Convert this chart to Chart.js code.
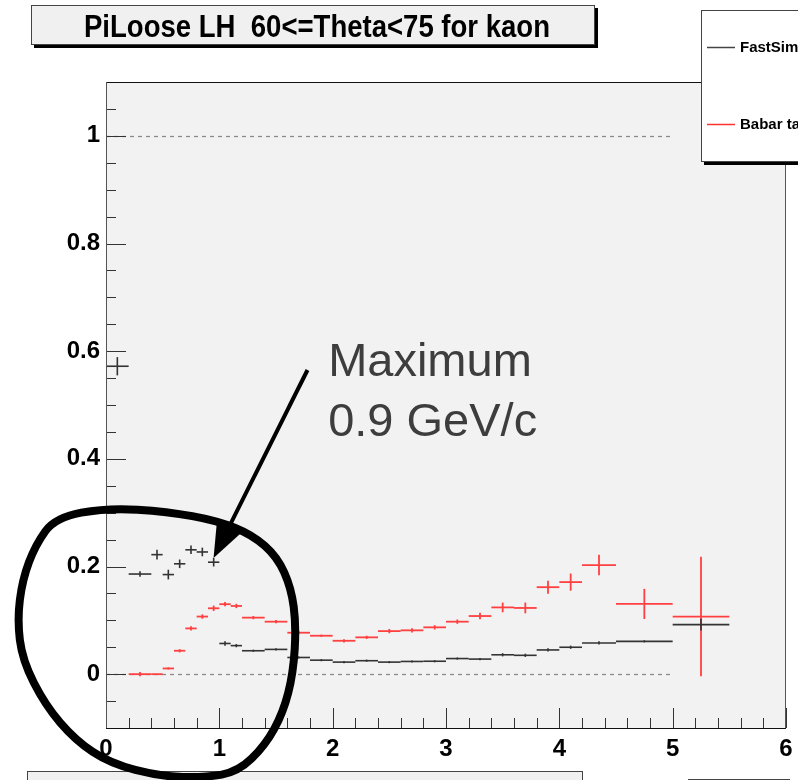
<!DOCTYPE html>
<html>
<head>
<meta charset="utf-8">
<script src="https://cdn.jsdelivr.net/npm/chart.js@4.4.1/dist/chart.umd.min.js"></script>
<style>
  html, body { margin: 0; padding: 0; background: #fff; }
  #wrap { width: 798px; height: 780px; position: relative; }
</style>
</head>
<body>
<div id="wrap"><canvas id="chart"></canvas></div>
<script>
const titleText = "PiLoose LH  60<=Theta<75 for kaon";
const fastLabel = "FastSim";
const babarLabel = "Babar tables";
const noteLines = ["Maximum", "0.9 GeV/c"];

// momentum bins (GeV/c)
const binLo = [0, 0.2, 0.4, 0.5, 0.6, 0.7, 0.8, 0.9, 1.0, 1.1, 1.2, 1.4, 1.6, 1.8, 2.0, 2.2, 2.4, 2.6, 2.8, 3.0, 3.2, 3.4, 3.6, 3.8, 4.0, 4.2, 4.5, 5.0];
const binHi = [0.2, 0.4, 0.5, 0.6, 0.7, 0.8, 0.9, 1.0, 1.1, 1.2, 1.4, 1.6, 1.8, 2.0, 2.2, 2.4, 2.6, 2.8, 3.0, 3.2, 3.4, 3.6, 3.8, 4.0, 4.2, 4.5, 5.0, 5.5];

const fastSim = [0.572, 0.186, 0.222, 0.185, 0.205, 0.231, 0.227, 0.208, 0.057, 0.053, 0.0435, 0.046, 0.031, 0.026, 0.0224, 0.025, 0.0224, 0.0236, 0.024, 0.029, 0.028, 0.036, 0.035, 0.045, 0.050, 0.058, 0.061, 0.092];
const fastErr = [0.017, 0.005, 0.009, 0.009, 0.008, 0.008, 0.008, 0.008, 0.004, 0.003, 0.002, 0.002, 0.002, 0.002, 0.002, 0.002, 0.002, 0.002, 0.002, 0.002, 0.002, 0.003, 0.003, 0.003, 0.003, 0.003, 0.002, 0.011];

const babar = [null, 0, 0, 0.0106, 0.0435, 0.085, 0.107, 0.1224, 0.130, 0.1267, 0.105, 0.0975, 0.077, 0.0714, 0.062, 0.0684, 0.080, 0.0814, 0.087, 0.0975, 0.108, 0.124, 0.123, 0.1616, 0.171, 0.2026, 0.1305, 0.107];
const babarErr = [null, 0.004, 0, 0.002, 0.003, 0.004, 0.004, 0.005, 0.004, 0.004, 0.003, 0.003, 0.003, 0.002, 0.003, 0.003, 0.004, 0.004, 0.004, 0.004, 0.006, 0.009, 0.010, 0.012, 0.016, 0.019, 0.028, 0.111];

const xTickValues = [0, 1, 2, 3, 4, 5, 6];
const yTickValues = [0, 0.2, 0.4, 0.6, 0.8, 1];

// dashed guide lines at 0 and 1, drawn from p=0 to p=5
const refLevels = [0, 1];
const refFrom = 0;
const refTo = 5;

// hand-drawn annotation, in data units (p, efficiency)
const loopX = [-0.447, 0.011, 0.541, 0.982, 1.290, 1.511, 1.634, 1.678, 1.652, 1.564, 1.405, 1.167, 0.876, 0.479, 0.038, -0.270, -0.535, -0.738, -0.782, -0.738, -0.623];
const loopY = [0.291, 0.309, 0.302, 0.285, 0.259, 0.218, 0.160, 0.091, 0.002, -0.071, -0.132, -0.181, -0.192, -0.190, -0.166, -0.123, -0.058, 0.026, 0.101, 0.175, 0.240];
const arrowFrom = [1.778, 0.565];
const arrowTo = [0.949, 0.216];
const noteAt = [1.96, 0.5536];

const FONT = "'Liberation Sans', Arial, Helvetica, sans-serif";

function toPoints(vals) {
  return vals.map((v, i) => ({ x: (binLo[i] + binHi[i]) / 2, y: v }));
}

function line(ctx, x1, y1, x2, y2) {
  ctx.beginPath();
  ctx.moveTo(x1, y1);
  ctx.lineTo(x2, y2);
  ctx.stroke();
}

function shadowBox(ctx, x, y, w, h, fill) {
  ctx.fillStyle = "#000";
  ctx.fillRect(x + 3, y + 3, w, h);
  ctx.fillStyle = fill;
  ctx.fillRect(x, y, w, h);
  ctx.strokeStyle = "#444";
  ctx.lineWidth = 1;
  ctx.strokeRect(x + 0.5, y + 0.5, w - 1, h - 1);
}

// ── Plugin: frame, ticks, error crosses, decorations ──

const rootStyle = {
  id: "rootStyle",
  beforeDraw(chart) {
    const { ctx, chartArea: a } = chart;
    ctx.save();
    ctx.fillStyle = "#fff";
    ctx.fillRect(0, 0, chart.width, chart.height);
    ctx.fillStyle = "#f2f2f2";
    ctx.fillRect(a.left, a.top, a.right - a.left, a.bottom - a.top);
    ctx.restore();
  },
  beforeDatasetsDraw(chart) {
    const { ctx, chartArea: a, scales: { x, y } } = chart;
    ctx.save();
    ctx.strokeStyle = "#8a8a8a";
    ctx.lineWidth = 1.3;
    ctx.setLineDash([4, 4]);
    refLevels.forEach((lv) => {
      const py = Math.round(y.getPixelForValue(lv)) + 0.5;
      line(ctx, x.getPixelForValue(refFrom), py, x.getPixelForValue(refTo), py);
    });
    ctx.setLineDash([]);

    // ticks point into the frame
    ctx.strokeStyle = "#333";
    ctx.lineWidth = 1;
    for (let i = 0; i <= 30; i++) {
      const px = Math.round(x.getPixelForValue(i * 0.2)) + 0.5;
      line(ctx, px, a.bottom, px, a.bottom - (i % 5 === 0 ? 20 : 10));
    }
    for (let i = -2; i <= 22; i++) {
      const py = Math.round(y.getPixelForValue(i * 0.05)) + 0.5;
      line(ctx, a.left, py, a.left + (i % 4 === 0 ? 20 : 10), py);
    }
    ctx.restore();
  },
  afterDatasetsDraw(chart) {
    const { ctx, chartArea: a, scales: { x, y } } = chart;
    ctx.save();
    // draw babar first, fastsim on top
    [1, 0].forEach((di) => {
      const ds = chart.data.datasets[di];
      ctx.strokeStyle = ds.borderColor;
      ctx.lineWidth = ds.borderWidth;
      ds.data.forEach((pt, i) => {
        if (pt.y === null) return;
        const py = y.getPixelForValue(pt.y);
        const px = x.getPixelForValue(pt.x);
        line(ctx, x.getPixelForValue(ds.lo[i]), py, x.getPixelForValue(ds.hi[i]), py);
        if (ds.err[i] > 0) {
          line(ctx, px, y.getPixelForValue(pt.y - ds.err[i]), px, y.getPixelForValue(pt.y + ds.err[i]));
        }
      });
    });

    // frame border
    ctx.lineWidth = 1;
    ctx.strokeStyle = "#111";
    line(ctx, a.left, a.top + 0.5, a.right, a.top + 0.5);
    line(ctx, a.left, a.bottom + 0.5, a.right, a.bottom + 0.5);
    ctx.strokeStyle = "#555";
    line(ctx, a.left + 0.5, a.top, a.left + 0.5, a.bottom);
    line(ctx, a.right - 0.5, a.top, a.right - 0.5, a.bottom);
    ctx.restore();
  },
  afterDraw(chart) {
    const { ctx, scales: { x, y } } = chart;
    ctx.save();

    // title box
    shadowBox(ctx, 31, 5, 564, 40, "#f0f0f0");
    ctx.fillStyle = "#000";
    ctx.font = `bold 31px ${FONT}`;
    ctx.textAlign = "center";
    ctx.textBaseline = "alphabetic";
    ctx.fillText(titleText, 317, 37, 466);

    // legend box (runs off the right edge)
    shadowBox(ctx, 701, 10, 120, 152, "#fff");
    ctx.lineWidth = 1.5;
    ctx.strokeStyle = "#444";
    line(ctx, 707, 47.5, 735, 47.5);
    ctx.strokeStyle = "#ff3030";
    line(ctx, 707, 124.5, 735, 124.5);
    ctx.fillStyle = "#000";
    ctx.font = `bold 15px ${FONT}`;
    ctx.textAlign = "left";
    ctx.textBaseline = "middle";
    ctx.fillText(fastLabel, 740, 48);
    ctx.fillText(babarLabel, 740, 125);

    // boxes peeking in at the bottom
    ctx.fillStyle = "#f0f0f0";
    ctx.fillRect(27, 771, 556, 20);
    ctx.strokeStyle = "#444";
    ctx.lineWidth = 1;
    ctx.strokeRect(27.5, 771.5, 555, 20);
    line(ctx, 688, 779.5, 790, 779.5);

    // hand-drawn loop
    const pts = loopX.map((v, i) => [x.getPixelForValue(v), y.getPixelForValue(loopY[i])]);
    ctx.strokeStyle = "#000";
    ctx.lineWidth = 8;
    ctx.lineJoin = "round";
    ctx.lineCap = "round";
    ctx.beginPath();
    const n = pts.length;
    const mid = (p, q) => [(p[0] + q[0]) / 2, (p[1] + q[1]) / 2];
    let m0 = mid(pts[n - 1], pts[0]);
    ctx.moveTo(m0[0], m0[1]);
    for (let i = 0; i < n; i++) {
      const p = pts[i];
      const m = mid(p, pts[(i + 1) % n]);
      ctx.quadraticCurveTo(p[0], p[1], m[0], m[1]);
    }
    ctx.stroke();

    // arrow
    const ax1 = x.getPixelForValue(arrowFrom[0]);
    const ay1 = y.getPixelForValue(arrowFrom[1]);
    const ax2 = x.getPixelForValue(arrowTo[0]);
    const ay2 = y.getPixelForValue(arrowTo[1]);
    const len = Math.hypot(ax2 - ax1, ay2 - ay1);
    const ux = (ax2 - ax1) / len;
    const uy = (ay2 - ay1) / len;
    const bx = ax2 - ux * 36;
    const by = ay2 - uy * 36;
    ctx.lineWidth = 4;
    ctx.lineCap = "butt";
    line(ctx, ax1, ay1, bx, by);
    ctx.fillStyle = "#000";
    ctx.beginPath();
    ctx.moveTo(ax2, ay2);
    ctx.lineTo(bx - uy * 14, by + ux * 14);
    ctx.lineTo(bx + uy * 14, by - ux * 14);
    ctx.closePath();
    ctx.fill();

    // note text
    ctx.fillStyle = "#3d3d3d";
    ctx.font = `47px ${FONT}`;
    ctx.textAlign = "left";
    ctx.textBaseline = "alphabetic";
    const tx = x.getPixelForValue(noteAt[0]);
    const ty = y.getPixelForValue(noteAt[1]);
    noteLines.forEach((t, i) => ctx.fillText(t, tx, ty + i * 60));
    ctx.restore();
  },
};

Chart.defaults.font.family = FONT;

new Chart(document.getElementById("chart"), {
  type: "scatter",
  data: {
    datasets: [
      {
        label: fastLabel,
        data: toPoints(fastSim),
        lo: binLo,
        hi: binHi,
        err: fastErr,
        borderColor: "#333",
        borderWidth: 1.6,
        pointRadius: 0,
        showLine: false,
      },
      {
        label: babarLabel,
        data: toPoints(babar),
        lo: binLo,
        hi: binHi,
        err: babarErr,
        borderColor: "#ff4040",
        borderWidth: 1.8,
        pointRadius: 0,
        showLine: false,
      },
    ],
  },
  options: {
    responsive: true,
    maintainAspectRatio: false,
    animation: false,
    layout: { padding: { top: 82, right: 12, left: 0, bottom: 0 } },
    plugins: {
      legend: { display: false },
      tooltip: { enabled: false },
    },
    scales: {
      x: {
        type: "linear",
        min: 0,
        max: 6,
        afterBuildTicks: (s) => { s.ticks = xTickValues.map((v) => ({ value: v })); },
        afterFit: (s) => {
          s.height = 52;
          s.paddingLeft = 0;
          s.paddingRight = 0;
        },
        grid: { display: false, drawTicks: false },
        border: { display: false },
        ticks: {
          color: "#000",
          padding: 7,
          maxRotation: 0,
          autoSkip: false,
          font: { size: 24, weight: "bold" },
          callback: (v) => String(v),
        },
      },
      y: {
        type: "linear",
        min: -0.1,
        max: 1.1,
        afterBuildTicks: (s) => { s.ticks = yTickValues.map((v) => ({ value: v })); },
        afterFit: (s) => {
          s.width = 106;
          s.paddingTop = 0;
          s.paddingBottom = 0;
        },
        grid: { display: false, drawTicks: false },
        border: { display: false },
        ticks: {
          color: "#000",
          padding: 6,
          autoSkip: false,
          font: { size: 24, weight: "bold" },
          callback: (v) => String(Math.round(v * 10) / 10),
        },
      },
    },
  },
  plugins: [rootStyle],
});
</script>
</body>
</html>
